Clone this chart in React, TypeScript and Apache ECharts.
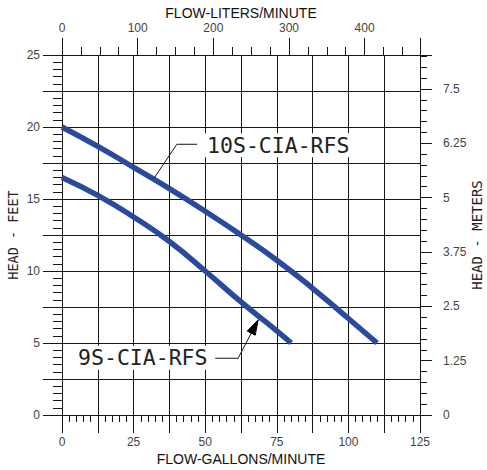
import React, { useEffect, useRef } from 'react';
import * as echarts from 'echarts';

// ---- data ----
const L_PER_GAL = 3.785411784;
const FLOW_MAX_GPM = 125;
const HEAD_MAX_FT = 25;
const HEAD_MAX_M = 8.28;

const flow10S = [0, 12.5, 25, 37.5, 50, 62.5, 75, 87.5, 100, 110];
const head10S = [20, 18.65, 17.2, 15.72, 14.15, 12.5, 10.75, 8.8, 6.7, 5];
const flow9S = [0, 12.5, 25, 37.5, 50, 62.5, 75, 80];
const head9S = [16.5, 15.25, 13.75, 12.05, 10.0, 7.85, 5.85, 5.0];

const name10S = '10S-CIA-RFS';
const name9S = '9S-CIA-RFS';
// annotation anchors in data coordinates (gpm, ft)
const label10SAt = [75.5, 18.73];
const leader10S = [[47.2, 18.8], [40.1, 18.8], [32.3, 16.49]];
const label9SAt = [28.2, 3.97];
const leader9S = [[53.5, 3.94], [61.5, 3.94], [68.5, 6.61]];

const INK = '#161616';
const CURVE = '#2a4b9b';
const tickFont = { color: '#444', fontSize: 12, fontFamily: 'Liberation Sans' };
const titleFont = { color: '#111', fontSize: 14, fontFamily: 'Liberation Sans' };
const cadFont = 'DejaVu Sans Mono';

export default function App() {
  const ref = useRef<HTMLDivElement>(null);
  useEffect(() => {
    const chart = echarts.init(ref.current!, null, { renderer: 'svg' });
    const line = { color: INK, width: 1 };
    const option: any = {
      animation: false,
      backgroundColor: '#fff',
      grid: { left: 62, top: 55, width: 358, height: 360, containLabel: false, outerBoundsMode: 'none' },
      xAxis: [
        {
          type: 'value', position: 'bottom', min: 0, max: FLOW_MAX_GPM, interval: 12.5,
          axisLine: { show: true, onZero: false, lineStyle: line },
          axisTick: { show: true, length: 18, lineStyle: line },
          minorTick: { show: true, splitNumber: 5, length: 7, lineStyle: line },
          splitLine: { show: true, lineStyle: line },
          axisLabel: { ...tickFont, margin: 21, formatter: (v: number) => (v % 25 === 0 ? String(v) : '') },
          name: 'FLOW-GALLONS/MINUTE', nameLocation: 'middle', nameGap: 37, nameMoveOverlap: false, nameTextStyle: titleFont,
        },
        {
          type: 'value', position: 'top', min: 0, max: FLOW_MAX_GPM * L_PER_GAL, interval: 100,
          axisLine: { show: true, onZero: false, lineStyle: line },
          axisTick: { show: true, length: 17, lineStyle: line },
          minorTick: { show: true, splitNumber: 4, length: 8, lineStyle: line },
          splitLine: { show: false },
          axisLabel: { ...tickFont, margin: 21, formatter: (v: number) => (v % 100 === 0 ? String(v) : '') },
          name: 'FLOW-LITERS/MINUTE', nameLocation: 'middle', nameGap: 35, nameMoveOverlap: false, nameTextStyle: titleFont,
        },
      ],
      yAxis: [
        {
          type: 'value', position: 'left', min: 0, max: HEAD_MAX_FT, interval: 2.5,
          axisLine: { show: true, onZero: false, lineStyle: line },
          axisTick: { show: true, length: 19, lineStyle: line },
          minorTick: { show: true, splitNumber: 5, length: 9, lineStyle: line },
          splitLine: { show: true, lineStyle: line },
          axisLabel: { ...tickFont, margin: 22, formatter: (v: number) => (v % 5 === 0 ? String(v) : '') },
          name: 'HEAD - FEET', nameLocation: 'middle', nameGap: 42, nameRotate: 90, nameMoveOverlap: false,
          nameTextStyle: { color: '#222', fontSize: 13.5, fontFamily: cadFont },
        },
        {
          type: 'value', position: 'right', min: 0, max: HEAD_MAX_M, interval: 1.25,
          axisLine: { show: true, onZero: false, lineStyle: line },
          axisTick: { show: true, length: 12, lineStyle: line },
          minorTick: { show: true, splitNumber: 5, length: 7, lineStyle: line },
          splitLine: { show: false },
          axisLabel: { ...tickFont, margin: 23, formatter: (v: number) => (v <= 7.5 + 1e-6 ? String(v) : '') },
          name: 'HEAD - METERS', nameLocation: 'middle', nameGap: 50, nameRotate: 90, nameMoveOverlap: false,
          nameTextStyle: { color: '#222', fontSize: 14, fontFamily: cadFont },
        },
      ],
      series: [
        {
          name: name10S, type: 'line', xAxisIndex: 0, yAxisIndex: 0, smooth: 0.5, showSymbol: false,
          lineStyle: { color: CURVE, width: 5.5, cap: 'butt' }, z: 5,
          data: flow10S.map((f, i) => [f, head10S[i]]),
        },
        {
          name: name9S, type: 'line', xAxisIndex: 0, yAxisIndex: 0, smooth: 0.5, showSymbol: false,
          lineStyle: { color: CURVE, width: 5.5, cap: 'butt' }, z: 5,
          data: flow9S.map((f, i) => [f, head9S[i]]),
        },
      ],
    };
    chart.setOption(option);

    const px = (p: number[]) => chart.convertToPixel({ seriesIndex: 0 }, p) as number[];
    const l10 = leader10S.map(px);
    const l9 = leader9S.map(px);
    const t10 = px(label10SAt);
    const t9 = px(label9SAt);
    // arrowhead at end of 9S leader
    const tip = l9[2];
    const prev = l9[1];
    const dx = tip[0] - prev[0];
    const dy = tip[1] - prev[1];
    const len = Math.hypot(dx, dy);
    const ux = dx / len, uy = dy / len;
    const aL = 15, aW = 4.5;
    const bx = tip[0] - ux * aL, by = tip[1] - uy * aL;
    const arrow = [tip, [bx - uy * aW, by + ux * aW], [bx + uy * aW, by - ux * aW]];

    chart.setOption({
      graphic: [
        { type: 'polyline', z: 50, shape: { points: l10 }, style: { stroke: INK, lineWidth: 1, fill: null } },
        { type: 'polyline', z: 50, shape: { points: l9 }, style: { stroke: INK, lineWidth: 1, fill: null } },
        { type: 'polygon', z: 50, shape: { points: arrow }, style: { fill: '#000', stroke: '#000', lineWidth: 1 } },
        {
          type: 'text', z: 50, x: t10[0], y: t10[1],
          style: { text: name10S, font: `21.5px "${cadFont}"`, fill: '#222', align: 'center', verticalAlign: 'middle', backgroundColor: '#fff', padding: [1, 3] },
        },
        {
          type: 'text', z: 50, x: t9[0], y: t9[1],
          style: { text: name9S, font: `21.5px "${cadFont}"`, fill: '#222', align: 'center', verticalAlign: 'middle', backgroundColor: '#fff', padding: [1, 3] },
        },
      ],
    });
    return () => chart.dispose();
  }, []);
  return <div ref={ref} style={{ position: 'fixed', left: 0, top: 0, width: 487, height: 470 }} />;
}
